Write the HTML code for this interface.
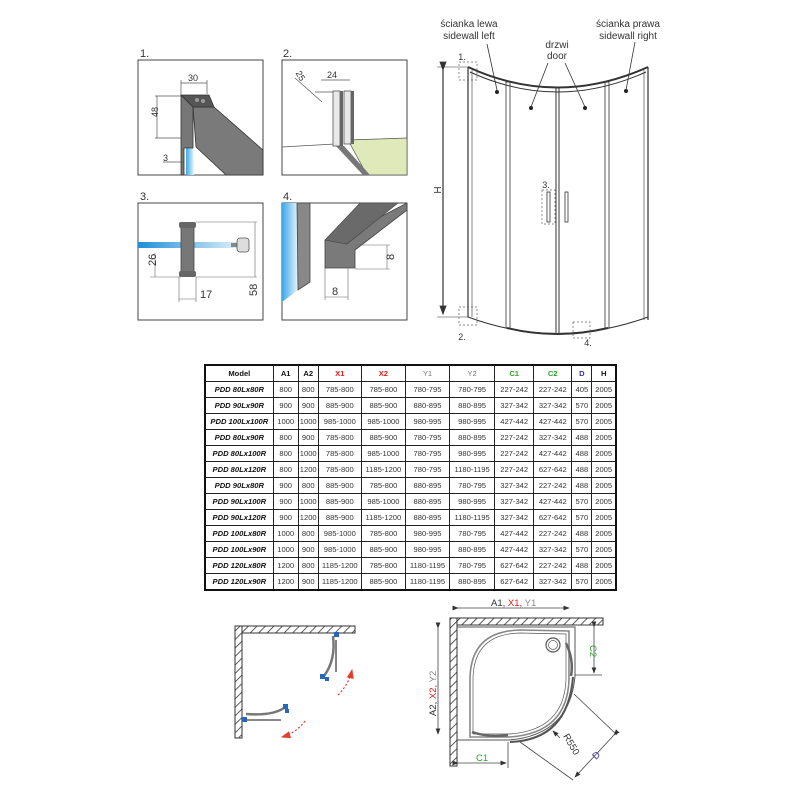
<!DOCTYPE html>
<html><head><meta charset="utf-8">
<style>
html,body{margin:0;padding:0;background:#fff;}
body{width:800px;height:800px;position:relative;overflow:hidden;font-family:"Liberation Sans",sans-serif;}
svg{position:absolute;left:0;top:0;}
table{position:absolute;left:204px;top:364px;width:413px;height:214px;border-collapse:collapse;table-layout:fixed;font-size:7.6px;color:#333;}
td{border:1px solid #222;text-align:center;padding:0;height:15px;white-space:nowrap;overflow:hidden;}
td.m{font-weight:bold;font-style:italic;color:#111;}
tr.h td{font-weight:bold;color:#111;}
tr.h td.r{color:#e21b1b;} tr.h td.g{color:#2aa52a;} tr.h td.b{color:#3a2fa0;} tr.h td.gy{color:#777;}
table{border:2px solid #111;}
</style></head><body>
<svg width="800" height="800" viewBox="0 0 800 800" font-family="Liberation Sans, sans-serif">
<defs>
<linearGradient id="bl" x1="0" x2="1" y1="0" y2="0"><stop offset="0" stop-color="#1e8fd8"/><stop offset="1" stop-color="#e6f3fb"/></linearGradient>
<linearGradient id="bv" x1="0" x2="1"><stop offset="0" stop-color="#3aa8e8"/><stop offset="1" stop-color="#e8f5fc"/></linearGradient>
<pattern id="hat" width="6" height="6" patternUnits="userSpaceOnUse" patternTransform="rotate(45)"><rect width="6" height="6" fill="#fff"/><line x1="0" y1="0" x2="0" y2="6" stroke="#333" stroke-width="1.6"/></pattern>
<marker id="ar" markerWidth="8" markerHeight="8" refX="7" refY="4" orient="auto"><path d="M0,1 L8,4 L0,7z" fill="#333"/></marker>
<marker id="arr" markerWidth="8" markerHeight="8" refX="7" refY="4" orient="auto"><path d="M0,1 L8,4 L0,7z" fill="#e53b2b"/></marker>
</defs>
<g font-size="11" fill="#333">
<text x="140" y="57">1.</text><text x="283" y="57">2.</text><text x="140" y="200">3.</text><text x="283" y="200">4.</text>
</g>
<g fill="none" stroke="#444" stroke-width="1">
<rect x="138" y="60" width="125" height="115"/>
<rect x="282" y="60" width="125" height="115"/>
<rect x="138" y="203" width="125" height="117"/>
<rect x="282" y="203" width="125" height="117"/>
</g>
<!-- panel 1 -->
<polygon points="186,147 193,147 194,175 186,175" fill="url(#bv)"/>
<polygon points="181,95 193,107 193,148 184,148 184,175 181,175" fill="#777" stroke="#333" stroke-width=".8"/>
<polygon points="193,107 214,107 263,150 263,175 226,175 196,147" fill="#7a7a7a" stroke="#333" stroke-width=".8"/>
<polygon points="181,95 209,95 214,107 193,107" fill="#555" stroke="#333" stroke-width=".8"/>
<circle cx="197" cy="100" r="2" fill="#999"/><circle cx="203" cy="101" r="2" fill="#999"/>
<g stroke="#555" stroke-width=".7" fill="none"><line x1="181" y1="83" x2="207" y2="83"/><line x1="181" y1="80" x2="181" y2="94"/><line x1="207" y1="80" x2="207" y2="94"/><line x1="155" y1="96" x2="181" y2="96"/><line x1="155" y1="138" x2="181" y2="138"/><line x1="157" y1="96" x2="157" y2="138"/><line x1="163" y1="162" x2="184" y2="162"/></g>
<g font-size="9" fill="#333"><text x="188" y="81">30</text><text x="154" y="121" transform="rotate(-90 154 117)" >48</text><text x="163" y="161">3</text></g>
<!-- panel 2 -->
<polygon points="348,140 407,138 407,175 367,175" fill="#dfe9b9" stroke="#555" stroke-width=".7"/>
<line x1="282" y1="147" x2="335" y2="144" stroke="#555" stroke-width=".7"/>
<polygon points="336,146 344,146 370,175 363,175" fill="#777"/>
<rect x="333" y="91" width="7" height="55" fill="#e8e8e8" stroke="#555" stroke-width=".8"/>
<rect x="340" y="91" width="3" height="55" fill="#666"/>
<rect x="344" y="91" width="7" height="53" fill="#e8e8e8" stroke="#555" stroke-width=".8"/>
<rect x="351" y="91" width="3" height="53" fill="#666"/>
<g stroke="#555" stroke-width=".7"><line x1="321" y1="80" x2="350" y2="80"/><line x1="295" y1="78" x2="322" y2="102"/><line x1="315" y1="92" x2="333" y2="92"/></g>
<g font-size="9" fill="#333"><text x="327" y="78">24</text><text x="296" y="78" transform="rotate(60 300 75)">25</text></g>
<!-- panel 3 -->
<rect x="138" y="242" width="105" height="6" fill="url(#bl)"/>
<rect x="231" y="243" width="8" height="4" fill="#888"/>
<rect x="237" y="238" width="12" height="14" rx="3" fill="#ddd" stroke="#555" stroke-width=".8"/>
<rect x="181" y="225" width="13" height="51" fill="#777" stroke="#444" stroke-width=".8"/>
<rect x="179" y="222" width="17" height="6" rx="2" fill="#666"/>
<rect x="179" y="271" width="17" height="6" rx="2" fill="#666"/>
<g stroke="#666" stroke-width=".6"><line x1="196" y1="222" x2="257" y2="222"/><line x1="196" y1="277" x2="257" y2="277"/><line x1="255" y1="222" x2="255" y2="277"/><line x1="150" y1="277" x2="181" y2="277"/><line x1="155" y1="253" x2="155" y2="277"/><line x1="179" y1="277" x2="179" y2="302"/><line x1="196" y1="277" x2="196" y2="302"/><line x1="179" y1="299" x2="196" y2="299"/></g>
<g font-size="11" fill="#333"><text x="200" y="298">17</text><text x="152" y="270" transform="rotate(-90 152 266)" >26</text><text x="253" y="300" transform="rotate(-90 253 296)">58</text></g>
<!-- panel 4 -->
<polygon points="282,203 298,203 298,290 282,302" fill="url(#bv)"/>
<polygon points="297,203 310,203 310,282 298,290" fill="#888" stroke="#444" stroke-width=".8"/>
<polygon points="325,240 336,240 407,203 407,210 355,250 355,268 325,268" fill="#7a7a7a" stroke="#444" stroke-width=".8"/>
<polygon points="325,240 360,203 398,203 347,244" fill="#6a6a6a" stroke="#444" stroke-width=".6"/>
<g stroke="#666" stroke-width=".6"><line x1="355" y1="245" x2="390" y2="245"/><line x1="355" y1="269" x2="390" y2="269"/><line x1="387" y1="245" x2="387" y2="269"/><line x1="325" y1="268" x2="325" y2="300"/><line x1="348" y1="268" x2="348" y2="300"/><line x1="325" y1="297" x2="348" y2="297"/></g>
<g font-size="11" fill="#333"><text x="332" y="295">8</text><text x="390" y="264" transform="rotate(-90 390 260)">8</text></g>

<!-- main shower -->
<g font-size="10" fill="#333" text-anchor="middle">
<text x="469" y="27">ścianka lewa</text><text x="469" y="39">sidewall left</text>
<text x="557" y="48">drzwi</text><text x="557" y="59">door</text>
<text x="628" y="27">ścianka prawa</text><text x="628" y="39">sidewall right</text>
<text x="462" y="60" font-size="9">1.</text><text x="462" y="340" font-size="9">2.</text><text x="546" y="188" font-size="9">3.</text><text x="588" y="346" font-size="9">4.</text>
<text x="441" y="190" transform="rotate(-90 441 190)" font-size="10">H</text>
</g>
<g stroke="#333" fill="none">
<line x1="443" y1="70" x2="443" y2="314" stroke-width="1.2" marker-start="url(#ar)" marker-end="url(#ar)"/>
<line x1="437" y1="67" x2="468" y2="67" stroke-width=".6"/><line x1="437" y1="317" x2="468" y2="317" stroke-width=".6"/>
<path d="M468,67 Q557,108 648,67" stroke-width="2"/>
<path d="M470,72 Q557,112 646,72" stroke-width="1"/>
<path d="M468,317 Q557,350 648,317" stroke-width="1"/>
<path d="M507,328 Q557,340 608,328" stroke-width="2"/>
<line x1="468" y1="67" x2="468" y2="317" stroke-width="1.2"/>
<line x1="472" y1="70" x2="472" y2="317" stroke-width=".6"/>
<line x1="648" y1="67" x2="648" y2="320" stroke-width="1.2"/>
<line x1="644" y1="70" x2="644" y2="320" stroke-width=".6"/>
<rect x="506" y="82" width="4" height="246" stroke-width=".8"/>
<rect x="605" y="82" width="4" height="246" stroke-width=".8"/>
<line x1="556" y1="88" x2="556" y2="333" stroke-width="1"/><line x1="559" y1="88" x2="559" y2="333" stroke-width="1"/>
<rect x="547" y="192" width="3" height="30" stroke-width=".8"/><rect x="565" y="192" width="3" height="30" stroke-width=".8"/>
<g stroke-dasharray="2,2" stroke-width=".7" stroke="#666"><rect x="459" y="62" width="18" height="18"/><rect x="459" y="307" width="18" height="18"/><rect x="542" y="190" width="13" height="34"/><rect x="573" y="322" width="17" height="16"/></g>
<g stroke-width=".8"><line x1="487" y1="44" x2="497" y2="90"/><line x1="548" y1="63" x2="531" y2="107"/><line x1="565" y1="63" x2="585" y2="107"/><line x1="635" y1="42" x2="626" y2="90"/></g>
</g>
<g fill="#222"><circle cx="497" cy="92" r="2"/><circle cx="531" cy="108" r="2"/><circle cx="585" cy="108" r="2"/><circle cx="626" cy="91" r="2"/></g>

<!-- bottom left plan -->
<rect x="235" y="626" width="120" height="7" fill="url(#hat)" stroke="#333"/>
<rect x="235" y="626" width="7" height="112" fill="url(#hat)" stroke="#333"/>
<g stroke="#777" fill="none" stroke-width="2.5"><path d="M333,636 Q336,660 324,676"/><line x1="336" y1="640" x2="336" y2="672" stroke-width="1.8"/><path d="M246,714 Q272,716 284,708"/><line x1="246" y1="720" x2="281" y2="720" stroke-width="1.8"/></g>
<g fill="#2767b8"><rect x="334" y="632" width="5" height="5"/><rect x="242" y="717" width="5" height="5"/><rect x="320" y="674" width="5" height="5"/><rect x="325" y="677" width="4" height="4"/><rect x="283" y="704" width="5" height="5"/><rect x="285" y="709" width="4" height="4"/></g>
<g stroke="#e53b2b" stroke-width="1.2" stroke-dasharray="2,2" fill="none"><path d="M338,695 Q349,684 352,670" marker-end="url(#arr)"/><path d="M305,721 Q296,733 282,737" marker-end="url(#arr)"/></g>

<!-- bottom right plan -->
<rect x="450" y="618" width="153" height="7" fill="url(#hat)" stroke="#333"/>
<rect x="450" y="618" width="7" height="148" fill="url(#hat)" stroke="#333"/>
<g fill="none" stroke="#555">
<path d="M457,740 L509,740 Q570,735 575,676 L575,627 L457,627" stroke-width="1"/>
<path d="M470,737 L470,680 Q470,631 520,630 L569,631 L569,680 Q567,733 510,737 Z" stroke-width="1.6" stroke="#888"/>
<path d="M473,734 L473,680 Q473,634 520,633 L566,634 L566,680 Q564,730 510,734 Z" stroke-width=".7"/>
<path d="M573,677 Q568,740 510,742" stroke-width="2"/>
<path d="M566,643 Q574,660 571,676" stroke-width="2.5" stroke="#666"/>
<path d="M472,732 Q490,738 508,735" stroke-width="2.5" stroke="#666"/>
<circle cx="553" cy="645" r="7" stroke-width="1.2"/><circle cx="553" cy="645" r="4.5" stroke-width=".7"/>
</g>
<g stroke="#444" stroke-width=".8" fill="none">
<line x1="458" y1="608" x2="569" y2="608" marker-start="url(#ar)" marker-end="url(#ar)"/>
<line x1="438" y1="628" x2="438" y2="734" marker-start="url(#ar)" marker-end="url(#ar)"/>
<line x1="594" y1="627" x2="594" y2="673" marker-start="url(#ar)" marker-end="url(#ar)"/>
<line x1="575" y1="675" x2="602" y2="675"/><line x1="577" y1="625" x2="602" y2="625"/>
<line x1="458" y1="763" x2="506" y2="763" marker-start="url(#ar)" marker-end="url(#ar)"/>
<line x1="508" y1="742" x2="508" y2="768"/>
<line x1="574" y1="694" x2="617" y2="735"/><line x1="520" y1="742" x2="573" y2="780"/>
<line x1="614" y1="735" x2="575" y2="777" marker-start="url(#ar)" marker-end="url(#ar)"/>
<line x1="560" y1="738" x2="553" y2="731" marker-end="url(#ar)"/>
</g>
<g font-size="9.5" fill="#333">
<text x="491" y="606"><tspan>A1, </tspan><tspan fill="#e21b1b">X1,</tspan><tspan fill="#888"> Y1</tspan></text>
<text transform="translate(436,716) rotate(-90)"><tspan>A2, </tspan><tspan fill="#e21b1b">X2,</tspan><tspan fill="#888"> Y2</tspan></text>
<text transform="translate(590,645) rotate(90)" fill="#2aa52a">C2</text>
<text x="476" y="761" fill="#2aa52a">C1</text>
<text transform="translate(563,736) rotate(60)">R550</text>
<text transform="translate(596,760) rotate(-45)" fill="#3a2fa0">D</text>
</g>
</svg>
<table>
<colgroup><col style="width:68px"><col style="width:25px"><col style="width:20px"><col style="width:43px"><col style="width:44px"><col style="width:44px"><col style="width:45px"><col style="width:39px"><col style="width:38px"><col style="width:20px"><col style="width:24px"></colgroup>
<tr class="h"><td>Model</td><td>A1</td><td>A2</td><td class="r">X1</td><td class="r">X2</td><td class="gy" style="font-weight:normal">Y1</td><td class="gy" style="font-weight:normal">Y2</td><td class="g">C1</td><td class="g">C2</td><td class="b">D</td><td>H</td></tr>
<tr><td class="m">PDD 80Lx80R</td><td>800</td><td>800</td><td>785-800</td><td>785-800</td><td>780-795</td><td>780-795</td><td>227-242</td><td>227-242</td><td>405</td><td>2005</td></tr>
<tr><td class="m">PDD 90Lx90R</td><td>900</td><td>900</td><td>885-900</td><td>885-900</td><td>880-895</td><td>880-895</td><td>327-342</td><td>327-342</td><td>570</td><td>2005</td></tr>
<tr><td class="m">PDD 100Lx100R</td><td>1000</td><td>1000</td><td>985-1000</td><td>985-1000</td><td>980-995</td><td>980-995</td><td>427-442</td><td>427-442</td><td>570</td><td>2005</td></tr>
<tr><td class="m">PDD 80Lx90R</td><td>800</td><td>900</td><td>785-800</td><td>885-900</td><td>780-795</td><td>880-895</td><td>227-242</td><td>327-342</td><td>488</td><td>2005</td></tr>
<tr><td class="m">PDD 80Lx100R</td><td>800</td><td>1000</td><td>785-800</td><td>985-1000</td><td>780-795</td><td>980-995</td><td>227-242</td><td>427-442</td><td>488</td><td>2005</td></tr>
<tr><td class="m">PDD 80Lx120R</td><td>800</td><td>1200</td><td>785-800</td><td>1185-1200</td><td>780-795</td><td>1180-1195</td><td>227-242</td><td>627-642</td><td>488</td><td>2005</td></tr>
<tr><td class="m">PDD 90Lx80R</td><td>900</td><td>800</td><td>885-900</td><td>785-800</td><td>880-895</td><td>780-795</td><td>327-342</td><td>227-242</td><td>488</td><td>2005</td></tr>
<tr><td class="m">PDD 90Lx100R</td><td>900</td><td>1000</td><td>885-900</td><td>985-1000</td><td>880-895</td><td>980-995</td><td>327-342</td><td>427-442</td><td>570</td><td>2005</td></tr>
<tr><td class="m">PDD 90Lx120R</td><td>900</td><td>1200</td><td>885-900</td><td>1185-1200</td><td>880-895</td><td>1180-1195</td><td>327-342</td><td>627-642</td><td>570</td><td>2005</td></tr>
<tr><td class="m">PDD 100Lx80R</td><td>1000</td><td>800</td><td>985-1000</td><td>785-800</td><td>980-995</td><td>780-795</td><td>427-442</td><td>227-242</td><td>488</td><td>2005</td></tr>
<tr><td class="m">PDD 100Lx90R</td><td>1000</td><td>900</td><td>985-1000</td><td>885-900</td><td>980-995</td><td>880-895</td><td>427-442</td><td>327-342</td><td>570</td><td>2005</td></tr>
<tr><td class="m">PDD 120Lx80R</td><td>1200</td><td>800</td><td>1185-1200</td><td>785-800</td><td>1180-1195</td><td>780-795</td><td>627-642</td><td>227-242</td><td>488</td><td>2005</td></tr>
<tr><td class="m">PDD 120Lx90R</td><td>1200</td><td>900</td><td>1185-1200</td><td>885-900</td><td>1180-1195</td><td>880-895</td><td>627-642</td><td>327-342</td><td>570</td><td>2005</td></tr>
</table>
</body></html>
